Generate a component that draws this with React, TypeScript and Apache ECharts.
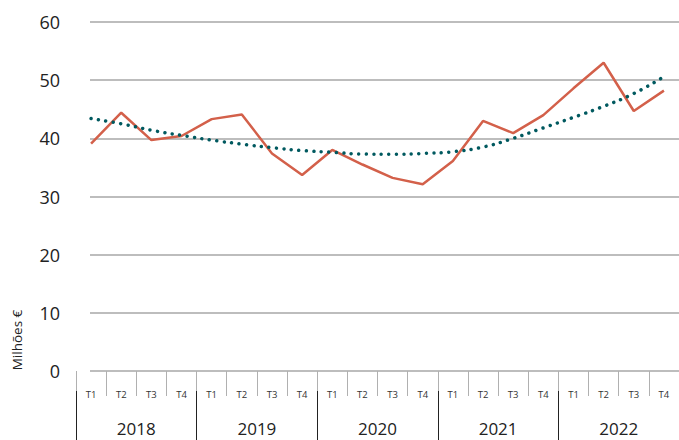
import React, { useEffect, useRef } from "react";
import * as echarts from "echarts";

const years = ["2018", "2019", "2020", "2021", "2022"];
const quarterNames = ["T1", "T2", "T3", "T4"];
const quarters = years.flatMap(() => quarterNames);
const revenue = [
  39.1, 44.4, 39.7, 40.4,
  43.3, 44.1, 37.4, 33.7,
  38.0, 35.5, 33.2, 32.1,
  36.1, 43.0, 40.9, 44.0,
  48.6, 53.0, 44.7, 48.2,
];
const trend = [
  43.4, 42.5, 41.4, 40.5,
  39.7, 39.0, 38.4, 37.9,
  37.6, 37.3, 37.25, 37.4,
  37.7, 38.5, 40.0, 41.8,
  43.6, 45.5, 47.7, 50.6,
];
const yTicks = { min: 0, max: 60, interval: 10 };

const FONT = "'Open Sans', sans-serif";

export default function App() {
  const ref = useRef<HTMLDivElement>(null);
  useEffect(() => {
    if (!ref.current) return;
    const chart = echarts.init(ref.current, null, { renderer: "svg" });
    chart.setOption({
      animation: false,
      textStyle: { fontFamily: FONT },
      grid: [
        { left: 90, right: 0, top: 22, bottom: 69 },
        { left: 76, width: 606, top: 22, bottom: 69 },
      ],
      xAxis: [
        { gridIndex: 0, type: "value", show: false },
        {
          gridIndex: 1,
          type: "category",
          data: quarters,
          position: "bottom",
          offset: 20,
          axisLine: { show: false },
          axisTick: { show: true, interval: 0, length: 25, lineStyle: { color: "#b0b0b0", width: 1 } },
          axisLabel: { interval: 0, fontSize: 9.5, color: "#333", margin: -2, fontFamily: FONT },
        },
        {
          gridIndex: 1,
          type: "category",
          data: years,
          position: "bottom",
          offset: 20,
          axisLine: { show: false },
          axisTick: { show: true, interval: 0, length: 60, lineStyle: { color: "#222", width: 1 } },
          axisLabel: { interval: 0, fontSize: 17, color: "#222", margin: 29, fontFamily: FONT },
        },
      ],
      yAxis: [
        {
          gridIndex: 0,
          type: "value",
          ...yTicks,
          axisLine: { show: false },
          axisTick: { show: false },
          axisLabel: { fontSize: 18, color: "#222", margin: 30, fontFamily: FONT },
          splitLine: { lineStyle: { color: "#bdbdbd", width: 2 } },
        },
        { gridIndex: 1, type: "value", ...yTicks, show: false, splitLine: { show: false } },
      ],
      series: [
        {
          type: "line",
          xAxisIndex: 1,
          yAxisIndex: 1,
          data: revenue,
          symbol: "none",
          lineStyle: { color: "#d3604a", width: 2.5 },
          z: 2,
        },
        {
          type: "line",
          xAxisIndex: 1,
          yAxisIndex: 1,
          data: trend,
          symbol: "none",
          smooth: true,
          lineStyle: { color: "#00595f", width: 3.5, type: [0.01, 7.5], cap: "round" },
          z: 3,
        },
      ],
      graphic: [
        {
          type: "text",
          x: 17,
          y: 340,
          rotation: Math.PI / 2,
          style: {
            text: "Milhões €",
            fontSize: 13.5,
            fontFamily: FONT,
            fill: "#222",
            align: "center",
            verticalAlign: "middle",
          },
        },
      ],
    });
    return () => chart.dispose();
  }, []);
  return (
    <div
      ref={ref}
      style={{ position: "fixed", left: 0, top: 0, width: 679, height: 440, background: "#fff" }}
    />
  );
}
